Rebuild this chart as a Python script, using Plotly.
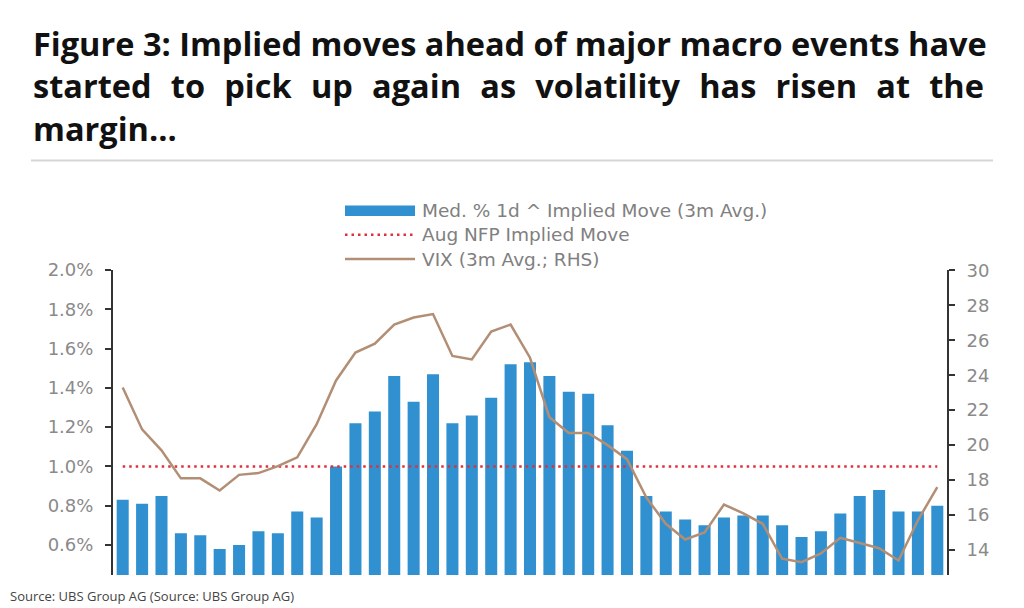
import plotly.graph_objects as go

# ---------------- data ----------------
periods = [f"P{i + 1}" for i in range(43)]
implied_move = [0.83, 0.81, 0.85, 0.66, 0.65, 0.58, 0.60, 0.67, 0.66, 0.77,
                0.74, 1.00, 1.22, 1.28, 1.46, 1.33, 1.47, 1.22, 1.26, 1.35,
                1.52, 1.53, 1.46, 1.38, 1.37, 1.21, 1.08, 0.85, 0.77, 0.73,
                0.70, 0.74, 0.75, 0.75, 0.70, 0.64, 0.67, 0.76, 0.85, 0.88,
                0.77, 0.77, 0.80]
vix_3m = [23.3, 20.9, 19.7, 18.1, 18.1, 17.4, 18.3, 18.4, 18.8, 19.3,
          21.2, 23.7, 25.3, 25.8, 26.9, 27.3, 27.5, 25.1, 24.9, 26.5,
          26.9, 25.0, 21.6, 20.7, 20.7, 20.0, 19.2, 17.0, 15.5, 14.6,
          15.0, 16.6, 16.1, 15.5, 13.5, 13.3, 13.8, 14.7, 14.4, 14.1,
          13.4, 15.7, 17.6]
aug_nfp_move = 1.0

series_names = ["Med. % 1d ^ Implied Move (3m Avg.)",
                "Aug NFP Implied Move",
                "VIX (3m Avg.; RHS)"]
title_line1 = "Figure 3: Implied moves ahead of major macro events have"
title_line2 = ["started", "to", "pick", "up", "again", "as", "volatility",
               "has", "risen", "at", "the"]
title_line3 = "margin..."
source_text = "Source: UBS Group AG (Source: UBS Group AG)"

# ---------------- style ----------------
# page is 1024x608; the html body adds an 8px margin, so the figure is
# made 8px smaller and all page-pixel positions are converted accordingly.
PAGE_W, PAGE_H, OFF = 1024, 608, 8
W, H = PAGE_W - OFF, PAGE_H - OFF
PLOT_L, PLOT_R, PLOT_T, PLOT_B = 113, 947, 270, 575   # page pixels
L, R, T, B = PLOT_L - OFF, PAGE_W - PLOT_R, PLOT_T - OFF, PAGE_H - PLOT_B
PW, PH = PLOT_R - PLOT_L, PLOT_B - PLOT_T

BLUE = "#3190D0"
RED = "#E0303C"
BROWN = "#B28E75"
AXIS = "#333333"
TICKGREY = "#8a8a8a"
TICKFONT = dict(family="DejaVu Sans", size=18, color=TICKGREY)


def px_x(X):
    return (X - PLOT_L) / PW


def px_y(Y):
    return (PLOT_B - Y) / PH


fig = go.Figure()
fig.add_trace(go.Bar(x=periods, y=implied_move, name=series_names[0],
                     marker=dict(color=BLUE, line=dict(width=0))))
fig.add_trace(go.Scatter(x=periods, y=[aug_nfp_move] * len(periods),
                         name=series_names[1], mode="lines",
                         line=dict(color=RED, width=2.5, dash="2.5px,4px")))
fig.add_trace(go.Scatter(x=periods, y=vix_3m, name=series_names[2],
                         mode="lines", yaxis="y2",
                         line=dict(color=BROWN, width=2.5)))

axis_common = dict(showgrid=False, zeroline=False, showline=True,
                   linecolor=AXIS, linewidth=2, ticks="outside", ticklen=6,
                   tickwidth=2, tickcolor=AXIS, tickfont=TICKFONT,
                   ticklabelstandoff=8)

fig.update_layout(
    width=W, height=H,
    margin=dict(l=L, r=R, t=T, b=B, autoexpand=False),
    paper_bgcolor="white", plot_bgcolor="white",
    showlegend=False, bargap=0.38,
    xaxis=dict(visible=False, range=[-0.5, len(periods) - 0.5]),
    yaxis=dict(range=[0.447, 2.0005], tick0=0, dtick=0.2, tickformat=".1f",
               ticksuffix="%", **axis_common),
    yaxis2=dict(range=[12.57, 30.02], overlaying="y", side="right",
                tick0=0, dtick=2, **axis_common),
)

shapes = []
annotations = []

# title: three lines; the middle one is widened (justified) with
# a normal space plus a three-per-em space between words.
TFONT = dict(family="Open Sans", size=32.5, color="#111111", weight="bold")
line2 = " \u2004".join(title_line2)
annotations.append(dict(text="<br>".join([title_line1, line2, title_line3]),
                        x=px_x(31), y=px_y(85.5), align="left",
                        xref="paper", yref="paper", xanchor="left",
                        yanchor="middle", showarrow=False, font=TFONT))
shapes.append(dict(type="line", xref="paper", yref="paper",
                   x0=px_x(31), x1=px_x(993), y0=px_y(160.5), y1=px_y(160.5),
                   line=dict(color="#d6d6d6", width=2)))

# legend (custom)
LEGFONT = dict(family="DejaVu Sans", size=18.5, color="#808080")
leg_y = [210.7, 234.7, 259.0]
shapes.append(dict(type="rect", xref="paper", yref="paper",
                   x0=px_x(345), x1=px_x(415), y0=px_y(216), y1=px_y(205.5),
                   fillcolor=BLUE, line=dict(width=0)))
shapes.append(dict(type="line", xref="paper", yref="paper",
                   x0=px_x(345), x1=px_x(415), y0=px_y(leg_y[1]),
                   y1=px_y(leg_y[1]),
                   line=dict(color=RED, width=2.5, dash="2.5px,4px")))
shapes.append(dict(type="line", xref="paper", yref="paper",
                   x0=px_x(345), x1=px_x(415), y0=px_y(leg_y[2]),
                   y1=px_y(leg_y[2]), line=dict(color=BROWN, width=2.5)))
for name, ly in zip(series_names, leg_y):
    annotations.append(dict(text=name, x=px_x(420), y=px_y(ly),
                            xref="paper", yref="paper", xanchor="left",
                            yanchor="middle", showarrow=False, font=LEGFONT))

# source
annotations.append(dict(text=source_text, x=px_x(OFF), y=px_y(596),
                        xref="paper", yref="paper", xanchor="left",
                        yanchor="middle", showarrow=False,
                        font=dict(family="Open Sans", size=13, color="#444444")))

fig.update_layout(shapes=shapes, annotations=annotations)
fig.write_html("out.html")
